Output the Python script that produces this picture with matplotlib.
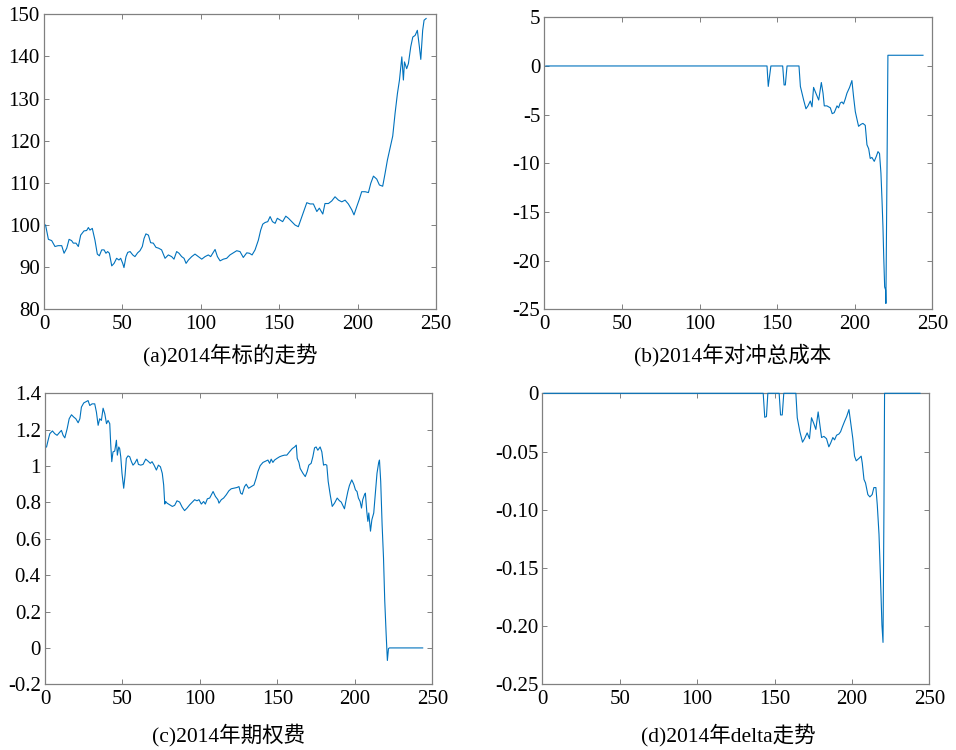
import numpy as np
import matplotlib.pyplot as plt

# (a) underlying price 2014
days_a = [1, 2.8, 4.9, 7, 9, 11.3, 12.8, 14.5, 16, 17.6, 18.7, 20.4, 21.9, 23.4, 25.5, 27.2, 28.3, 29.3, 30.8,
          32.5, 34, 35.3, 36.8, 38.3, 39.5, 40.6, 41.7, 43.2, 44.7, 46.3, 47.8, 48.9, 50.2, 51, 52.3, 53.4, 54.9,
          56.6, 58, 59.7, 61.2, 62.7, 63.8, 65, 66.6, 68, 69.7, 71.4, 73.1, 75, 77.2, 79.3, 81.4, 82.9, 84.6,
          86.1, 87.8, 89.3, 90.6, 92.1, 94.2, 96.3, 98.4, 100.6, 102.7, 104.8, 106.3, 107.6, 109.1, 110.6, 112.3,
          114.4, 116.5, 118.6, 120.8, 122.9, 125, 127.1, 129.3, 131, 132.7, 134.6, 136.7, 138.2, 139.5, 141,
          142.7, 144.2, 145.7, 147.4, 148.8, 150.5, 152.2, 154.2, 155.9, 158, 160.1, 162.2, 163.7, 165.9, 167.6,
          169.7, 171.8, 174, 175.6, 177.8, 179.2, 181.4, 183.5, 185.6, 187.8, 189.9, 192, 194.1, 196.3, 197.7,
          199.4, 201.1, 202.6, 204.8, 206.9, 208.4, 210.1, 212.2, 213.9, 216, 217.5, 219, 220.7, 222.4, 223.9,
          225.4, 226.7, 228.2, 229.2, 229.9, 231.3, 232.4, 233.9, 235.2, 236.7, 238.1, 239.4, 240.3, 241.5,
          242.4, 243.7]
price_a = [100.0, 96.6, 96.3, 94.9, 95.1, 95.1, 93.3, 94.5, 96.6, 96.3, 95.7, 95.7, 94.9, 97.6, 98.6, 98.7, 99.4,
           98.8, 99.2, 96.4, 93.1, 92.7, 94.1, 94.1, 93.3, 93.7, 93.3, 90.3, 90.9, 92.1, 91.7, 92.1, 90.9, 89.9,
           92.5, 93.5, 93.7, 92.9, 92.5, 93.4, 93.9, 94.9, 96.8, 97.9, 97.6, 95.8, 95.7, 94.7, 94.5, 94.1, 92.1,
           92.9, 92.5, 91.9, 93.7, 93.3, 92.5, 92.1, 90.9, 91.7, 92.5, 93.1, 92.5, 91.9, 92.5, 92.9, 92.5, 93.3,
           94.2, 92.5, 91.5, 91.9, 92.1, 92.9, 93.4, 93.9, 93.7, 92.3, 93.4, 93.3, 92.9, 94.1, 96.4, 98.8, 100.2,
           100.6, 100.8, 102.0, 100.8, 100.4, 101.6, 101.2, 100.8, 102.1, 101.6, 100.8, 100.0, 99.6, 101.2, 103.6,
           105.3, 105.0, 105.0, 103.2, 104.0, 102.6, 105.1, 105.1, 105.7, 106.7, 105.9, 105.5, 105.9, 105.0,
           103.6, 102.4, 104.3, 106.1, 107.9, 107.9, 107.7, 109.9, 111.6, 110.9, 109.5, 109.2, 112.2, 115.4,
           118.2, 121.1, 126.5, 131.2, 134.4, 139.9, 134.4, 138.7, 137.1, 138.3, 142.3, 144.6, 145.0, 146.2,
           142.3, 139.3, 146.2, 148.6, 149.0]

# (b) total hedging cost 2014
days_b = [1, 143.5, 144.3, 146, 153.6, 154.5, 155.3, 156.4, 164.1, 165, 167.1, 168.6, 169.9, 171.4, 172.5, 173.5,
          175, 176.8, 178.5, 179.6, 180.4, 182.1, 184.3, 185.5, 186.8, 188.6, 189.6, 190.7, 191.8, 192.8, 193.9,
          195, 196.7, 198.2, 199.3, 200.4, 201.5, 202.5, 204, 205.3, 206.8, 207.9, 209, 210, 211.1, 212.6, 213.9,
          215, 216, 216.9, 217.6, 218.2, 218.7, 219.3, 219.9, 220.1, 220.8, 221.4, 244]
cost_b = [0, 0, -2.1, 0, 0, -1.95, -1.95, 0, 0, -2.1, -3.5, -4.4, -4.1, -3.6, -4.2, -2.2, -2.8, -3.5, -1.7, -2.8,
          -4.1, -4.1, -4.3, -4.9, -4.8, -4.1, -4.3, -3.8, -3.7, -3.9, -3.4, -2.8, -2.2, -1.5, -3.2, -4.7, -5.5,
          -6.2, -6.0, -5.9, -6.1, -8.1, -8.5, -9.5, -9.4, -9.8, -9.3, -8.8, -9.0, -11.0, -13.8, -16.5, -19.6,
          -22.7, -23.0, -24.4, -10.9, 1.1, 1.1]

# (c) option premium 2014
days_c = [1, 2, 3.1, 4.8, 6.3, 7.8, 9.6, 10.6, 11.7, 12.8, 14.3, 15.6, 17.1, 18.6, 19.9, 21.4, 22.5, 23.5, 25,
          26.8, 27.8, 28.9, 30.4, 32.1, 33.2, 34.3, 35.3, 36.4, 37.5, 38.6, 39.7, 40.7, 41.8, 42.4, 43.1, 43.9,
          45, 46.1, 46.7, 47.6, 48.2, 48.9, 49.7, 50.8, 51.7, 52.5, 53.6, 54.7, 55.8, 56.8, 57.9, 59.4, 60.3,
          61.8, 63.3, 65, 66.5, 68, 69.1, 70.4, 71.9, 73.2, 74.5, 75.7, 76.6, 77.3, 77.9, 78.8, 80.5, 82.2, 83.7,
          85.2, 86.9, 88.6, 90.1, 91.7, 93.4, 95.1, 96.6, 98.1, 99.4, 100.9, 102.4, 103.5, 104.8, 106.3, 107.4,
          108.5, 110, 111.6, 112.3, 113.8, 115.3, 117, 118.7, 120.2, 121.9, 123.9, 125.2, 126.3, 127.3, 128.8,
          129.9, 131.4, 133.1, 134.9, 136.4, 137.4, 138.9, 140.7, 142.4, 143.9, 145, 146, 147.1, 148.2, 149.7,
          151.4, 152.9, 154.6, 156.1, 157.8, 159.6, 161.1, 162.2, 162.8, 163.9, 164.7, 166.5, 168, 169.2, 170.3,
          171.8, 172.9, 174, 175, 176.1, 177.6, 178.7, 179.8, 180.9, 181.9, 182.8, 184.1, 185.4, 186.9, 188.6,
          190.1, 191.2, 192.2, 193.3, 194.4, 195.5, 196.5, 198, 199.3, 200.4, 201.4, 202.3, 203.4, 204.3, 205.1,
          206.2, 206.8, 207.7, 208.4, 209, 210.1, 211, 212.2, 213.3, 214.3, 215.4, 215.9, 216.7, 217.6, 218.5,
          219.3, 220.2, 221, 221.7, 222.3, 243.8]
premium_c = [1.105, 1.142, 1.178, 1.193, 1.178, 1.169, 1.187, 1.196, 1.169, 1.155, 1.205, 1.26, 1.282, 1.269,
             1.26, 1.238, 1.26, 1.324, 1.347, 1.355, 1.36, 1.333, 1.342, 1.342, 1.296, 1.224, 1.26, 1.251, 1.318,
             1.287, 1.233, 1.251, 1.233, 1.124, 1.024, 1.078, 1.082, 1.142, 1.06, 1.105, 1.096, 1.051, 0.96, 0.878,
             0.951, 1.042, 1.056, 1.051, 1.024, 1.005, 1.015, 1.038, 1.009, 1.005, 1.009, 1.038, 1.027, 1.015,
             1.024, 1.005, 0.978, 1.005, 0.996, 0.96, 0.896, 0.791, 0.805, 0.796, 0.787, 0.778, 0.784, 0.809,
             0.802, 0.773, 0.755, 0.769, 0.787, 0.802, 0.815, 0.809, 0.815, 0.791, 0.805, 0.791, 0.82, 0.824,
             0.842, 0.86, 0.833, 0.815, 0.796, 0.815, 0.824, 0.842, 0.864, 0.875, 0.878, 0.882, 0.887, 0.851,
             0.845, 0.887, 0.9, 0.878, 0.887, 0.896, 0.936, 0.969, 1.002, 1.02, 1.027, 1.033, 1.015, 1.038, 1.02,
             1.033, 1.042, 1.051, 1.056, 1.06, 1.06, 1.078, 1.096, 1.105, 1.115, 1.042, 1.02, 0.987, 0.96, 0.942,
             0.969, 1.005, 1.015, 1.051, 1.1, 1.105, 1.087, 1.105, 1.078, 1.005, 1.009, 1.005, 0.915, 0.842,
             0.778, 0.796, 0.824, 0.809, 0.802, 0.784, 0.765, 0.815, 0.86, 0.893, 0.924, 0.9, 0.869, 0.86, 0.824,
             0.805, 0.769, 0.815, 0.842, 0.851, 0.751, 0.696, 0.742, 0.642, 0.705, 0.742, 0.86, 0.96, 1.02, 1.033,
             0.915, 0.678, 0.496, 0.26, 0.078, -0.069, -0.004, 0, 0]

# (d) delta 2014
days_d = [1, 142.7, 143.7, 144.8, 145.7, 153, 153.9, 155, 156, 163.8, 164.7, 166.4, 168.1, 169.4, 171.1, 172.6,
          173.9, 175.4, 176.7, 178.2, 179.3, 180.4, 181.9, 183.6, 185.1, 186.2, 187.7, 188.8, 190.1, 191.6,
          192.7, 193.8, 195.3, 196.6, 198.1, 199.1, 200.6, 201.7, 202.8, 204.5, 206, 206.7, 207.8, 208.8, 210.3,
          211.6, 213.1, 214.2, 215.5, 216.4, 217.5, 218.1, 218.8, 219.4, 220.1, 220.7, 221.1, 244]
delta_d = [0, 0, -0.0206, -0.02, 0, 0, -0.0186, -0.0186, 0, 0, -0.021, -0.033, -0.042, -0.039, -0.034, -0.039,
           -0.021, -0.026, -0.031, -0.016, -0.027, -0.038, -0.037, -0.039, -0.046, -0.043, -0.038, -0.04, -0.036,
           -0.035, -0.033, -0.029, -0.024, -0.02, -0.014, -0.024, -0.039, -0.054, -0.058, -0.056, -0.054, -0.06,
           -0.074, -0.077, -0.087, -0.089, -0.087, -0.081, -0.081, -0.096, -0.121, -0.144, -0.173, -0.199,
           -0.214, -0.1, 0, 0]

captions = ['(a)2014年标的走势', '(b)2014年对冲总成本', '(c)2014年期权费', '(d)2014年delta走势']

plt.rcParams['font.family'] = ['Liberation Serif', 'Noto Sans CJK SC']
line_color = '#0072BD'
spine_color = '#808080'

fig = plt.figure(figsize=(9.56, 7.5), dpi=100)
W, H = 956, 750

def make_ax(l, t, r, b):
    return fig.add_axes([l / W, 1 - b / H, (r - l) / W, (b - t) / H])

axes = [make_ax(44, 14.3, 436, 309.3),
        make_ax(544.3, 17.3, 932.3, 309.3),
        make_ax(45, 393.3, 432.3, 684.3),
        make_ax(542.3, 393.3, 929.3, 684.3)]

series = [(days_a, price_a), (days_b, cost_b), (days_c, premium_c), (days_d, delta_d)]
ylims = [(80, 150), (-25, 5), (-0.2, 1.4), (-0.25, 0)]
yticks = [np.arange(80, 151, 10), np.arange(-25, 6, 5), np.arange(-0.2, 1.41, 0.2), np.arange(-0.25, 0.001, 0.05)]
ylabels = [None, None,
           ['-0.2', '0', '0.2', '0.4', '0.6', '0.8', '1', '1.2', '1.4'],
           ['-0.25', '-0.20', '-0.15', '-0.10', '-0.05', '0']]

for ax, (x, y), yl, yt, lab in zip(axes, series, ylims, yticks, ylabels):
    ax.plot(x, y, color=line_color, lw=0.8, clip_on=False, zorder=3)
    ax.set_xlim(0, 250)
    ax.set_ylim(*yl)
    ax.set_xticks([0, 50, 100, 150, 200, 250])
    ax.set_yticks(yt)
    if lab is not None:
        ax.set_yticklabels(lab)
    else:
        ax.set_yticklabels([str(int(round(v))) for v in yt])
    ax.tick_params(direction='in', length=3.5, width=0.7, color=spine_color,
                   top=True, right=True, labelsize=15, labelcolor='black')
    ax.tick_params(axis='x', pad=4)
    ax.tick_params(axis='y', pad=3)
    for s in ax.spines.values():
        s.set_color(spine_color)
        s.set_linewidth(0.9)

cap_pos = [(230, 355), (733, 355), (229, 735), (728, 735)]
for (cx, cy), cap in zip(cap_pos, captions):
    fig.text(cx / W, 1 - cy / H, cap, ha='center', va='center', fontsize=15.5)

fig.savefig('out.png', dpi=100)
